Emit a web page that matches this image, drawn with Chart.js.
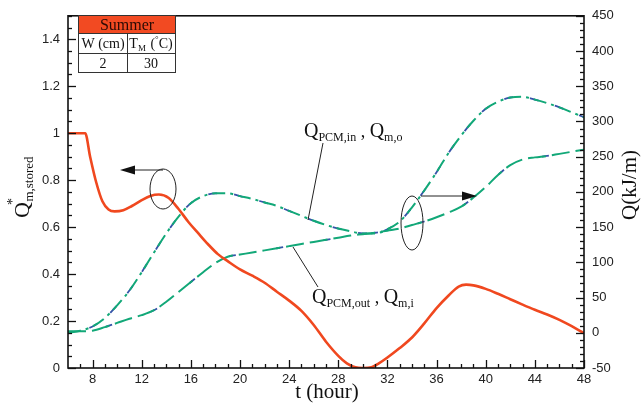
<!DOCTYPE html>
<html><head><meta charset="utf-8">
<script src="https://cdn.jsdelivr.net/npm/chart.js@4.4.1/dist/chart.umd.min.js"></script>
<style>html,body{margin:0;padding:0;background:#fff;}#wrap{width:643px;height:403px;position:relative;}</style>
</head><body><div id="wrap"><canvas id="c" width="643" height="403"></canvas></div>
<script>
// ---- data ----
const redHours = [6, 7.4, 7.8, 8.3, 8.8, 9.3, 9.8, 10.5, 11.2, 12.0, 12.7, 13.4, 14.2, 15.0, 15.8, 16.6, 17.4, 18.2, 19.0, 20.0, 21.0, 22.0, 23.0, 24.0, 25.0, 26.0, 27.0, 28.0, 28.7, 29.4, 30.0, 30.7, 31.3, 32.0, 33.0, 34.0, 35.0, 36.0, 37.0, 37.8, 38.4, 39.0, 40.0, 41.0, 42.0, 43.0, 44.0, 45.0, 46.0, 47.0, 48.0];
const qStored = [1.0, 1.0, 0.90, 0.79, 0.71, 0.675, 0.667, 0.672, 0.69, 0.715, 0.733, 0.739, 0.724, 0.677, 0.622, 0.574, 0.527, 0.485, 0.455, 0.42, 0.393, 0.363, 0.325, 0.287, 0.243, 0.183, 0.112, 0.052, 0.02, 0.003, 0, 0.003, 0.02, 0.045, 0.085, 0.13, 0.19, 0.255, 0.31, 0.347, 0.355, 0.352, 0.337, 0.316, 0.293, 0.27, 0.248, 0.228, 0.205, 0.178, 0.148];

const hours = [6,7,8,9,10,11,12,13,14,15,16,17,18,19,20,21,22,23,24,25,26,27,28,29,30,31,32,33,34,35,36,37,38,39,40,41,42,43,44,45,46,47,48];
const qPcmIn = [0,3,9,21,39,60,86,114,141,165,184,194,198,198,194,190,185,180,173,166,159,153,148,144,141,141,147,158,178,202,228,256,280,301,318,328,334,335,331,326,320,313,306];
const qMo    = [0,3,9,21,39,60,86,114,141,165,184,194,198,198,194,190,185,180,173,166,159,153,148,144,141,141,147,158,178,202,228,256,280,301,318,328,334,335,331,326,320,313,306];
const qPcmOut = [2,2,3,8,14,20,25,32,44,58,72,86,99,108,111,114,117,120,123,126,129,132,135,138,140,142,145,148,153,158,164,171,179,192,207,224,238,246,249,251,254,257,260];
const qMi     = [2,2,3,8,14,20,25,32,44,58,72,86,99,108,111,114,117,120,123,126,129,132,135,138,140,142,145,148,153,158,164,171,179,192,207,224,238,246,249,251,254,257,260];

const xTicks = [8,12,16,20,24,28,32,36,40,44,48];
const leftTicks = [0,0.2,0.4,0.6,0.8,1,1.2,1.4];
const rightTicks = [-50,0,50,100,150,200,250,300,350,400,450];

// ---- helpers ----
const pts = (xs, ys) => xs.map((x,i)=>({x:x, y:ys[i]}));
const RED = '#f0481f', BLUE = '#3553a8', GREEN = '#12a878';
const SERIF = '"Liberation Serif","Times New Roman",serif';
const SANS = '"Liberation Sans",Arial,sans-serif';

function subText(ctx, parts, x, y) {
  let cx = x;
  for (const p of parts) {
    ctx.font = p[1] + 'px ' + SERIF;
    ctx.fillText(p[0], cx, y + (p[2]||0));
    cx += ctx.measureText(p[0]).width + (p[3]||0);
  }
  return cx - x;
}
function measureParts(ctx, parts){
  let w=0; for (const p of parts){ctx.font=p[1]+'px '+SERIF; w+=ctx.measureText(p[0]).width+(p[3]||0);} return w;
}
function arrow(ctx, x1, y, x2) {
  const dir = Math.sign(x2 - x1);
  ctx.beginPath(); ctx.moveTo(x1, y); ctx.lineTo(x2 - dir*12, y); ctx.stroke();
  ctx.beginPath(); ctx.moveTo(x2, y); ctx.lineTo(x2 - dir*15, y - 4.5); ctx.lineTo(x2 - dir*15, y + 4.5); ctx.closePath(); ctx.fill();
}

const decor = {
  id: 'decor',
  afterDraw(chart) {
    const ctx = chart.ctx, a = chart.chartArea;
    const sx = chart.scales.x, sl = chart.scales.yL, sr = chart.scales.yR;
    ctx.save();
    ctx.strokeStyle = '#111'; ctx.lineWidth = 1.6;
    ctx.strokeRect(a.left, a.top, a.right - a.left, a.bottom - a.top);
    ctx.lineWidth = 1.3;
    for (let h = 7; h <= 48; h++) {
      const px = Math.round(sx.getPixelForValue(h)) + 0.5;
      const len = (h % 4 === 0) ? 8 : 4;
      ctx.beginPath(); ctx.moveTo(px, a.bottom); ctx.lineTo(px, a.bottom - len); ctx.stroke();
    }
    for (let i = 0; i <= 30; i++) {
      const v = i * 0.05;
      const py = Math.round(sl.getPixelForValue(v)) + 0.5;
      const len = (i % 4 === 0) ? 8 : 4;
      ctx.beginPath(); ctx.moveTo(a.left, py); ctx.lineTo(a.left + len, py); ctx.stroke();
    }
    for (let v = -50; v <= 450; v += 10) {
      const py = Math.round(sr.getPixelForValue(v)) + 0.5;
      const len = (v % 50 === 0) ? 8 : 4;
      ctx.beginPath(); ctx.moveTo(a.right, py); ctx.lineTo(a.right - len, py); ctx.stroke();
    }

    ctx.fillStyle = '#111'; ctx.textBaseline = 'alphabetic';
    ctx.font = '21px ' + SERIF; ctx.textAlign = 'center';
    ctx.fillText('t (hour)', (a.left + a.right) / 2 + 1, 398);
    ctx.save(); ctx.translate(636, 185); ctx.rotate(-Math.PI/2);
    ctx.textAlign = 'center'; ctx.fillText('Q(kJ/m)', 0, 0); ctx.restore();
    ctx.save(); ctx.translate(29, 218); ctx.rotate(-Math.PI/2);
    ctx.textAlign = 'left';
    ctx.font = '22px ' + SERIF; ctx.fillText('Q', 0, 0);
    const qw = ctx.measureText('Q').width;
    ctx.font = '14px ' + SERIF; ctx.fillText('*', qw - 3, -12);
    ctx.font = '13px ' + SERIF; ctx.fillText('m,stored', qw + 0.5, 4);
    ctx.restore();

    // table
    ctx.fillStyle = '#f24a22';
    ctx.fillRect(78, 15, 97, 18);
    ctx.strokeStyle = '#333'; ctx.lineWidth = 1;
    ctx.strokeRect(78.5, 15.5, 97, 57);
    ctx.beginPath();
    ctx.moveTo(78.5, 33.5); ctx.lineTo(175.5, 33.5);
    ctx.moveTo(78.5, 53.5); ctx.lineTo(175.5, 53.5);
    ctx.moveTo(127.5, 33.5); ctx.lineTo(127.5, 72.5);
    ctx.stroke();
    ctx.fillStyle = '#2a0a04'; ctx.textAlign = 'center';
    ctx.font = '16px ' + SERIF; ctx.fillText('Summer', 127, 30);
    ctx.fillStyle = '#111';
    ctx.font = '14px ' + SERIF; ctx.fillText('W (cm)', 103, 48);
    ctx.fillText('2', 103, 68); ctx.fillText('30', 151, 68);
    ctx.textAlign = 'left';
    const tParts = [['T',14,0],['M',9,3,1],[' (',14,0],['°',9,-6],['C)',14,0]];
    const tw = measureParts(ctx, tParts);
    subText(ctx, tParts, 151 - tw/2, 48);

    // annotations
    ctx.strokeStyle = '#222'; ctx.fillStyle = '#111'; ctx.lineWidth = 1;
    ctx.beginPath(); ctx.ellipse(163, 189, 13, 20, 0, 0, Math.PI*2); ctx.stroke();
    arrow(ctx, 163, 170, 120);
    ctx.beginPath(); ctx.ellipse(412, 223, 11, 27, 0, 0, Math.PI*2); ctx.stroke();
    arrow(ctx, 421, 196, 477);
    ctx.beginPath(); ctx.moveTo(323, 143); ctx.lineTo(308, 220); ctx.stroke();
    ctx.beginPath(); ctx.moveTo(318, 287); ctx.lineTo(293, 247); ctx.stroke();
    ctx.fillStyle = '#111';
    subText(ctx, [['Q',20,0],['PCM,in',12,4],[' , ',18,0],['Q',20,0],['m,o',12,4]], 304, 137);
    subText(ctx, [['Q',20,0],['PCM,out',12,4],[' , ',18,0],['Q',20,0],['m,i',12,4]], 312, 303);
    ctx.restore();
  }
};

const tickFont = { family: SANS, size: 13 };
const fmt = v => String(Math.round(v * 100) / 100);
new Chart(document.getElementById('c'), {
  type: 'line',
  data: {
    datasets: [
      { label: 'Q*m,stored', data: pts(redHours, qStored), yAxisID: 'yL', borderColor: RED, borderWidth: 2.6, pointRadius: 0, cubicInterpolationMode: 'monotone', fill: false },
      { label: 'Qm,o', data: pts(hours, qMo), yAxisID: 'yR', borderColor: GREEN, borderWidth: 2, borderDash: [13,5,3,5], pointRadius: 0, cubicInterpolationMode: 'monotone', fill: false },
      { label: 'Qm,i', data: pts(hours, qMi), yAxisID: 'yR', borderColor: GREEN, borderWidth: 2, borderDash: [18,6], pointRadius: 0, cubicInterpolationMode: 'monotone', fill: false },
      { label: 'QPCM,in', data: pts(hours, qPcmIn), yAxisID: 'yR', borderColor: BLUE, borderWidth: 1.8, borderDash: [9,17], borderDashOffset: 4, pointRadius: 0, cubicInterpolationMode: 'monotone', fill: false },
      { label: 'QPCM,out', data: pts(hours, qPcmOut), yAxisID: 'yR', borderColor: BLUE, borderWidth: 1.8, borderDash: [7,41], borderDashOffset: 10, pointRadius: 0, cubicInterpolationMode: 'monotone', fill: false }
    ]
  },
  options: {
    responsive: false, animation: false, devicePixelRatio: 1,
    layout: { padding: { top: 15, left: 0, right: 0, bottom: 0 } },
    plugins: { legend: { display: false }, tooltip: { enabled: false } },
    scales: {
      x: {
        type: 'linear', min: 6, max: 48,
        grid: { display: false, drawTicks: false }, border: { display: false },
        ticks: { font: tickFont, color: '#222', padding: 4, maxRotation: 0, autoSkip: false, callback: fmt },
        afterBuildTicks: s => { s.ticks = xTicks.map(v => ({ value: v })); },
        afterFit: s => { s.height = 35; }
      },
      yL: {
        type: 'linear', position: 'left', min: 0, max: 1.5,
        grid: { display: false, drawTicks: false }, border: { display: false },
        ticks: { font: tickFont, color: '#222', padding: 8, callback: fmt },
        afterBuildTicks: s => { s.ticks = leftTicks.map(v => ({ value: v })); },
        afterFit: s => { s.width = 68; }
      },
      yR: {
        type: 'linear', position: 'right', min: -50, max: 450,
        grid: { display: false, drawTicks: false }, border: { display: false },
        ticks: { font: tickFont, color: '#222', padding: 8, callback: fmt },
        afterBuildTicks: s => { s.ticks = rightTicks.map(v => ({ value: v })); },
        afterFit: s => { s.width = 59; }
      }
    }
  },
  plugins: [decor]
});
</script>
</body></html>
